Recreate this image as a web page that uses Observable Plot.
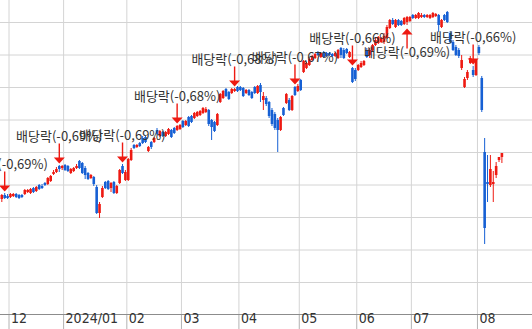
<!DOCTYPE html>
<html><head><meta charset="utf-8">
<script src="https://cdn.jsdelivr.net/npm/d3@7"></script>
<script src="https://cdn.jsdelivr.net/npm/@observablehq/plot@0.6"></script>
<style>html,body{margin:0;padding:0;background:#fff;}</style>
</head><body><div id="chart"></div>
<script>
// Daily candles, index 0 = 2023-11-28 (trading days)
const open = [11010,11050,11040,11030,11040,11060,11050,11050,11060,11080,11070,11120,11090,11150,11140,11170,11160,11190,11260,11280,11340,11320,
11350,11340,11270,11290,11320,11390,11370,11320,11270,11220,11230,11130,10870,11030,11180,11190,11120,11180,11070,11170,11340,11200,
11200,11400,11550,11530,11570,11620,11630,11490,11580,11580,11700,11640,11680,11640,11660,11700,11720,11700,11710,
11790,11750,11830,11840,11820,11840,11850,11870,11880,11900,11800,11780,11750,11980,12020,12110,12080,12070,12090,12130,
12130,12120,12070,12100,12080,12130,12070,12150,12000,12020,11980,11900,11860,11800,11700,11920,11970,12000,11900,12130,12090,
12200,12280,12320,12350,12400,12420,12480,12430,12480,12470,12470,12460,12440,12420,12520,12500,12510,12430,12320,12300,
12300,12330,12350,12500,12450,12500,12550,12570,12580,12580,12620,12720,12800,12730,12800,12790,12760,12780,12790,
12850,12820,12820,12830,12850,12830,12820,12830,12840,12850,12730,12850,12880,12670,12580,12530,12500,12320,12130,12220,12370,12300,12250,
12530,12220,11480,11180,11150,11160,11250,11400,11430];
const high = [11060,11070,11060,11070,11070,11070,11060,11060,11110,11110,11120,11130,11140,11160,11160,11180,11230,11250,11300,11330,11350,11350,
11360,11350,11320,11330,11360,11400,11380,11340,11280,11260,11240,11150,10980,11140,11190,11200,11180,11190,11150,11310,11360,11300,
11420,11520,11560,11560,11580,11640,11640,11540,11590,11630,11720,11700,11690,11690,11720,11710,11730,11750,11760,
11800,11800,11840,11850,11880,11890,11900,11930,11930,11910,11810,11790,11870,12070,12100,12120,12090,12120,12120,12140,
12140,12130,12110,12110,12090,12140,12150,12170,12080,12040,11990,11920,11880,11820,11840,11930,12070,12020,12050,12140,12160,
12210,12400,12380,12420,12450,12470,12490,12480,12490,12480,12480,12470,12480,12510,12530,12520,12520,12490,12330,12320,
12360,12390,12400,12520,12520,12560,12620,12640,12630,12670,12750,12810,12820,12810,12810,12800,12830,12840,12840,
12860,12860,12880,12870,12860,12860,12860,12880,12870,12860,12810,12860,12890,12690,12600,12550,12520,12450,12230,12300,12440,12340,12410,
12550,12240,11620,11450,11450,11290,11380,11430,11470];
const low = [10980,11010,11010,11020,11030,11020,11010,11020,11050,11070,11060,11070,11080,11100,11110,11140,11150,11180,11250,11270,11280,11300,
11290,11280,11260,11280,11310,11310,11260,11210,11200,11210,11140,10860,10820,11020,11110,11100,11080,11060,11060,11160,11260,11190,
11190,11390,11510,11520,11530,11560,11570,11480,11510,11570,11650,11630,11630,11630,11650,11620,11660,11690,11700,
11720,11740,11730,11770,11810,11830,11840,11860,11870,11740,11600,11680,11740,11970,12010,12030,12000,12060,12080,12080,
12090,12030,12060,12040,12010,12060,12060,11980,11900,11940,11820,11740,11700,11480,11690,11840,11960,11890,11890,12040,12080,
12090,12270,12310,12340,12390,12410,12440,12420,12420,12430,12440,12430,12430,12410,12420,12410,12460,12420,12170,12190,
12290,12320,12340,12420,12420,12480,12540,12560,12570,12560,12610,12710,12750,12720,12740,12740,12750,12750,12780,
12810,12810,12810,12820,12820,12820,12810,12820,12830,12680,12720,12790,12770,12570,12490,12440,12420,12300,12120,12200,12360,12230,12240,
12450,11880,10560,10980,11130,10980,11220,11380,11370];
const close = [11050,11020,11020,11060,11060,11030,11020,11030,11100,11100,11110,11080,11130,11110,11120,11150,11220,11240,11280,11310,11310,11340,
11300,11290,11310,11320,11340,11320,11270,11250,11210,11250,11160,10870,10960,11120,11120,11110,11170,11070,11140,11300,11270,11280,
11410,11500,11520,11550,11540,11570,11580,11530,11530,11620,11660,11690,11640,11680,11710,11630,11670,11740,11750,
11730,11790,11740,11780,11870,11880,11890,11920,11910,11760,11730,11690,11860,12060,12090,12040,12010,12110,12110,12090,
12100,12040,12100,12050,12020,12070,12140,12080,12040,11960,11840,11760,11720,11700,11830,11850,12060,11900,12040,12050,12140,
12100,12390,12370,12410,12440,12460,12450,12470,12430,12440,12450,12440,12470,12500,12450,12420,12470,12480,12180,12210,
12350,12370,12390,12430,12500,12550,12600,12630,12620,12640,12730,12800,12760,12800,12750,12750,12820,12830,12830,
12820,12850,12870,12850,12830,12850,12850,12870,12860,12750,12800,12800,12780,12580,12500,12450,12440,12400,12210,12280,12420,12250,12400,
12470,11900,10720,11160,11310,11180,11340,11430,11470];

// Month boundaries (index of first trading day) and their labels
const monthStart = [3, 22, 44, 63, 83, 104, 124, 143, 166];
const monthLabels = ["12", "2024/01", "02", "03", "04", "05", "06", "07", "08"];
// Horizontal grid levels
const gridLevels = [12780, 12455, 12130, 11805, 11480, 11155, 10830, 10505, 10180];
const yMin = 9860, yMax = 13000;

// Ex-dividend days (candle index), rate and arrow direction
const exIndex = [1, 20, 42, 61, 81, 102, 122, 141, 164];
const exRate = ["-0,69%", "-0,69%", "-0,69%", "-0,68%", "-0,68%", "-0,67%", "-0,66%", "-0,69%", "-0,66%"];
const exUp = [false, false, false, false, false, false, false, true, false];

const RED = "#ee1a12", BLUE = "#1660d4";
const candles = open.map((o, i) => ({i, open: o, high: high[i], low: low[i], close: close[i], color: close[i] >= o ? RED : BLUE}));
const ex = exIndex.map((i, k) => ({i, high: high[i], low: low[i], text: "배당락(" + exRate[k] + ")", up: exUp[k]}));
const ticks = monthStart.map((s, k) => ({x: s - 0.5, label: monthLabels[k]}));

const downArrow = {draw(c) {
  c.moveTo(-0.7, -20); c.lineTo(0.7, -20); c.lineTo(0.7, -6); c.lineTo(5.5, -6);
  c.lineTo(0, 0); c.lineTo(-5.5, -6); c.lineTo(-0.7, -6); c.closePath();
}};
const upArrow = {draw(c) {
  c.moveTo(-0.7, 20); c.lineTo(0.7, 20); c.lineTo(0.7, 6); c.lineTo(5.5, 6);
  c.lineTo(0, 0); c.lineTo(-5.5, 6); c.lineTo(-0.7, 6); c.closePath();
}};

const labelFont = "'Noto Sans CJK KR', sans-serif";
const axisFont = "'Liberation Sans Narrow', 'DejaVu Sans Condensed', 'Liberation Sans', sans-serif";

const chart = Plot.plot({
  width: 532, height: 329,
  marginTop: 0, marginRight: 0, marginBottom: 15, marginLeft: 0,
  x: {domain: [-0.4576, 184.65], axis: null},
  y: {domain: [yMin, yMax], axis: null},
  style: {background: "#fff"},
  marks: [
    Plot.ruleY(gridLevels, {stroke: "#d4d4d4", strokeWidth: 1}),
    Plot.ruleX(ticks, {x: "x", stroke: "#d4d4d4", strokeWidth: 1}),
    Plot.ruleX(ticks, {x: "x", y1: yMin, y2: yMin - 160, stroke: "#b2b2b2", strokeWidth: 1}),
    Plot.ruleY([yMin], {stroke: "#8c8c8c", strokeWidth: 1}),
    Plot.ruleX(candles, {x: "i", y1: "low", y2: "high", stroke: "color", strokeWidth: 1}),
    Plot.ruleX(candles, {x: "i", y1: "open", y2: "close", stroke: "color", strokeWidth: 2.6}),
    Plot.dot(ex.filter(d => !d.up), {x: "i", y: "high", dy: -2, symbol: downArrow, fill: RED, stroke: "none"}),
    Plot.dot(ex.filter(d => d.up), {x: "i", y: "low", dy: 3, symbol: upArrow, fill: RED, stroke: "none"}),
    Plot.text(ex.filter(d => !d.up), {x: "i", y: "high", dy: -29, text: "text", fill: "#333", fontSize: 13, fontFamily: labelFont}),
    Plot.text(ex.filter(d => d.up), {x: "i", y: "low", dy: 27, text: "text", fill: "#333", fontSize: 13, fontFamily: labelFont}),
    Plot.text(ticks, {x: "x", frameAnchor: "bottom", dy: 8, dx: 2, text: "label", textAnchor: "start", fill: "#333", fontSize: 14, fontFamily: axisFont})
  ]
});
document.getElementById("chart").appendChild(chart);
</script>
</body></html>
